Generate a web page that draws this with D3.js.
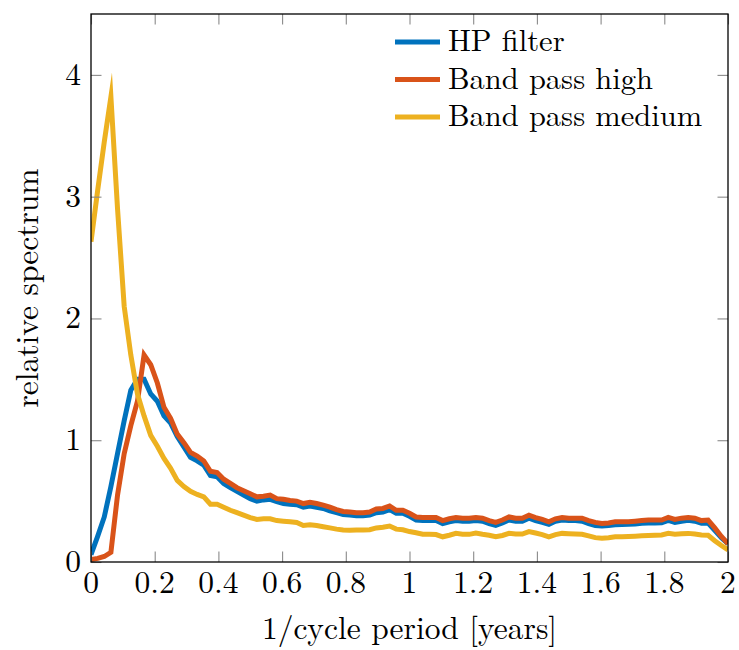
<!DOCTYPE html>
<html lang="en">
<head>
    <meta charset="UTF-8">
    <title>Relative spectrum</title>
    <script src="https://cdn.jsdelivr.net/npm/d3@7/dist/d3.min.js"></script>
    <style>
    body { margin: 0; background: #fff; }
    .curve { fill: none; stroke-width: 5px; stroke-linejoin: miter; stroke-miterlimit: 10; }
    </style>
</head>
<body>
<svg id="chart"></svg>
<script>
    // spectrum samples, one every 1/48 cycle per year, from 0 to 2
    const hpFilter = [
        0.06, 0.21, 0.37, 0.62, 0.89, 1.16, 1.41, 1.50, 1.50, 1.38,
        1.32, 1.20, 1.14, 1.03, 0.945, 0.86, 0.83, 0.795, 0.71, 0.70,
        0.645, 0.61, 0.58, 0.55, 0.52, 0.50, 0.51, 0.515, 0.495, 0.48,
        0.475, 0.47, 0.45, 0.46, 0.45, 0.44, 0.42, 0.405, 0.39, 0.385,
        0.38, 0.38, 0.385, 0.405, 0.41, 0.43, 0.40, 0.40, 0.375, 0.345,
        0.34, 0.34, 0.34, 0.315, 0.33, 0.34, 0.335, 0.335, 0.34, 0.335,
        0.315, 0.30, 0.32, 0.345, 0.335, 0.335, 0.36, 0.34, 0.325, 0.31,
        0.335, 0.345, 0.34, 0.34, 0.335, 0.315, 0.30, 0.295, 0.30, 0.305,
        0.308, 0.31, 0.312, 0.318, 0.32, 0.32, 0.322, 0.342, 0.325, 0.335,
        0.342, 0.335, 0.318, 0.32, 0.26, 0.20, 0.15
    ];
    const bandHigh = [
        0.02, 0.03, 0.045, 0.08, 0.55, 0.89, 1.12, 1.32, 1.70, 1.62,
        1.47, 1.27, 1.18, 1.05, 0.98, 0.90, 0.87, 0.83, 0.745, 0.735,
        0.68, 0.645, 0.61, 0.585, 0.56, 0.535, 0.54, 0.55, 0.52, 0.515,
        0.505, 0.50, 0.48, 0.49, 0.48, 0.467, 0.45, 0.43, 0.415, 0.41,
        0.405, 0.405, 0.41, 0.435, 0.44, 0.46, 0.425, 0.425, 0.40, 0.37,
        0.365, 0.365, 0.365, 0.34, 0.355, 0.365, 0.36, 0.36, 0.365, 0.36,
        0.34, 0.325, 0.345, 0.37, 0.36, 0.36, 0.385, 0.365, 0.35, 0.33,
        0.355, 0.366, 0.36, 0.36, 0.36, 0.34, 0.325, 0.317, 0.32, 0.33,
        0.33, 0.33, 0.335, 0.34, 0.344, 0.344, 0.345, 0.366, 0.35, 0.36,
        0.366, 0.36, 0.34, 0.344, 0.28, 0.21, 0.15
    ];
    const bandMedium = [
        2.63, 3.05, 3.45, 3.82, 2.90, 2.10, 1.70, 1.38, 1.20, 1.04,
        0.95, 0.85, 0.77, 0.67, 0.62, 0.58, 0.555, 0.535, 0.475, 0.475,
        0.45, 0.425, 0.405, 0.385, 0.365, 0.35, 0.355, 0.355, 0.34, 0.335,
        0.33, 0.325, 0.30, 0.305, 0.30, 0.29, 0.28, 0.27, 0.262, 0.26,
        0.262, 0.262, 0.265, 0.28, 0.285, 0.295, 0.27, 0.265, 0.25, 0.24,
        0.228, 0.227, 0.225, 0.207, 0.22, 0.235, 0.228, 0.227, 0.238, 0.228,
        0.22, 0.207, 0.218, 0.235, 0.23, 0.23, 0.25, 0.238, 0.225, 0.207,
        0.225, 0.235, 0.232, 0.23, 0.228, 0.215, 0.20, 0.195, 0.20, 0.207,
        0.208, 0.21, 0.212, 0.215, 0.218, 0.22, 0.222, 0.235, 0.228, 0.232,
        0.235, 0.23, 0.222, 0.22, 0.175, 0.135, 0.10
    ];
    const seriesNames = ['HP filter', 'Band pass high', 'Band pass medium'];
    const seriesColors = ['#0072bd', '#d95319', '#edb120'];
    const xTicks = [0, 0.2, 0.4, 0.6, 0.8, 1, 1.2, 1.4, 1.6, 1.8, 2];
    const yTicks = [0, 1, 2, 3, 4];

    const W = 739, H = 650;
    const margin = { top: 14, right: 11, bottom: 88, left: 91 };
    const width = W - margin.left - margin.right;
    const height = H - margin.top - margin.bottom;
    const serif = '"Latin Modern Roman", "Liberation Serif", serif';
    const fontSize = '31.5px';

    const svg = d3.select('#chart').attr('width', W).attr('height', H);
    const g = svg.append('g').attr('transform', `translate(${margin.left},${margin.top})`);

    const x = d3.scaleLinear().domain([0, 2]).range([0, width]);
    const y = d3.scaleLinear().domain([0, 4.5]).range([height, 0]);

    const step = 2 / (hpFilter.length - 1);
    const allSeries = [hpFilter, bandHigh, bandMedium];

    g.append('clipPath').attr('id', 'clip')
        .append('rect').attr('width', width).attr('height', height);

    const line = d3.line()
        .x((d, i) => x(i * step))
        .y(d => y(d));

    g.append('g').attr('clip-path', 'url(#clip)')
        .selectAll('path')
        .data(allSeries)
        .enter().append('path')
        .attr('class', 'curve')
        .attr('stroke', (d, i) => seriesColors[i])
        .attr('d', line);

    // inward ticks on all four sides, pgfplots style
    const tickLen = 10.5;
    const tickStyle = sel => sel.call(a => a.select('.domain').remove())
        .call(a => a.selectAll('.tick line').attr('stroke', '#8a8a8a').attr('stroke-width', 1.1));

    g.append('g').attr('transform', `translate(0,${height})`)
        .call(d3.axisBottom(x).tickValues(xTicks).tickSize(-tickLen).tickFormat(''))
        .call(tickStyle);
    g.append('g')
        .call(d3.axisTop(x).tickValues(xTicks).tickSize(-tickLen).tickFormat(''))
        .call(tickStyle);
    g.append('g')
        .call(d3.axisLeft(y).tickValues(yTicks).tickSize(-tickLen).tickFormat(''))
        .call(tickStyle);
    g.append('g').attr('transform', `translate(${width},0)`)
        .call(d3.axisRight(y).tickValues(yTicks).tickSize(-tickLen).tickFormat(''))
        .call(tickStyle);

    // frame
    g.append('rect')
        .attr('width', width).attr('height', height)
        .attr('fill', 'none').attr('stroke', '#000').attr('stroke-width', 1.3);

    const addText = sel => sel.style('font-family', serif).style('font-size', fontSize).attr('fill', '#000');

    // tick labels
    g.selectAll('.xlab').data(xTicks).enter().append('text')
        .call(addText)
        .attr('x', d => x(d)).attr('y', height + 31)
        .attr('text-anchor', 'middle')
        .text(d => d);

    g.selectAll('.ylab').data(yTicks).enter().append('text')
        .call(addText)
        .attr('x', -10).attr('y', d => y(d) + 10)
        .attr('text-anchor', 'end')
        .text(d => d);

    // axis titles
    g.append('text')
        .call(addText)
        .attr('x', width / 2).attr('y', height + 77)
        .attr('text-anchor', 'middle')
        .text('1/cycle period [years]');

    g.append('text')
        .call(addText)
        .attr('transform', `translate(${-53},${height / 2}) rotate(-90)`)
        .attr('text-anchor', 'middle')
        .text('relative spectrum');

    // legend, no box
    const legend = g.append('g')
        .attr('transform', `translate(${395 - margin.left},${42 - margin.top})`);
    seriesNames.forEach((name, i) => {
        const row = legend.append('g').attr('transform', `translate(0,${i * 37.5})`);
        row.append('line')
            .attr('x1', 0).attr('x2', 45).attr('y1', 0).attr('y2', 0)
            .attr('stroke', seriesColors[i]).attr('stroke-width', 4.8);
        row.append('text')
            .call(addText)
            .style('font-size', '30.5px')
            .attr('x', 53).attr('y', 9).text(name);
    });
</script>
</body>
</html>
